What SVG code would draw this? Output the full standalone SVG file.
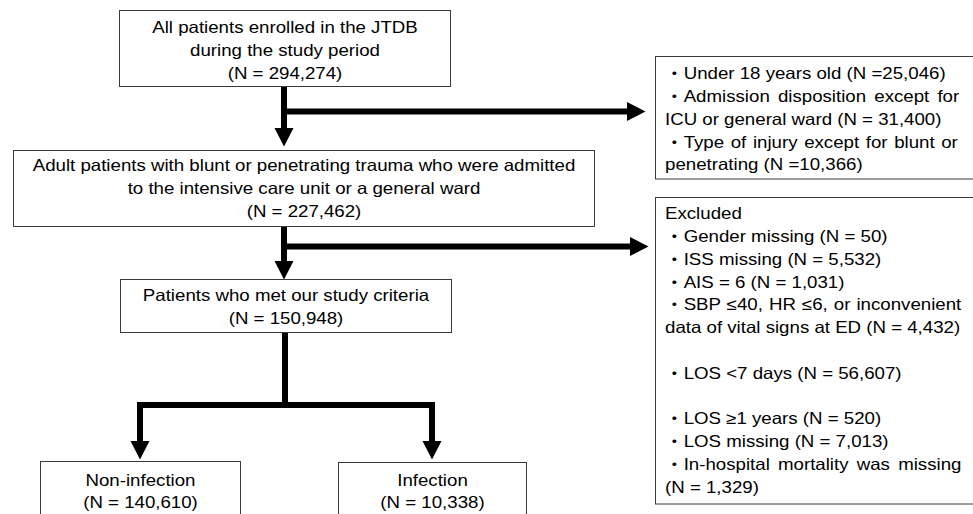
<svg xmlns="http://www.w3.org/2000/svg" width="973" height="514" viewBox="0 0 973 514">
<defs>
<style>
.box{fill:#fff;stroke:#3a3a3a;stroke-width:1}
.t{font-family:"Liberation Sans","Noto Sans CJK JP",Arial,sans-serif;font-size:16.3px;fill:#000}
.c{text-anchor:middle}
.arr{fill:none;stroke:#000;stroke-width:6;stroke-linejoin:miter}
</style>
<marker id="ah" markerUnits="userSpaceOnUse" markerWidth="19" markerHeight="20" refX="0" refY="9.5" orient="auto-start-reverse" viewBox="0 0 19 19" overflow="visible">
<path d="M0,0 L18.5,9.5 L0,19 Z" fill="#000"/>
</marker>
</defs>
<rect width="973" height="514" fill="#fff"/>

<g id="connectors">
<path class="arr" d="M284,86.5 V128" marker-end="url(#ah)"/>
<path class="arr" d="M281,111.5 H627" marker-end="url(#ah)"/>
<path class="arr" d="M284,226.5 V261" marker-end="url(#ah)"/>
<path class="arr" d="M281,246.5 H630" marker-end="url(#ah)"/>
<path class="arr" d="M285,332.5 V405"/>
<path class="arr" d="M140,441 V405 H432 V441" marker-start="url(#ah)" marker-end="url(#ah)"/>
</g>

<g id="all-patients">
<rect class="box" x="119.5" y="10.5" width="331" height="76"/>
<g transform="translate(285,0) scale(1.146,1)">
<text class="t c" x="0" y="33">All patients enrolled in the JTDB</text>
<text class="t c" x="0" y="56">during the study period</text>
<text class="t c" x="0" y="79">(N = 294,274)</text>
</g>
</g>

<g id="adult-patients">
<rect class="box" x="13.5" y="150.5" width="581" height="76"/>
<g transform="translate(304,0) scale(1.146,1)">
<text class="t c" x="0" y="171">Adult patients with blunt or penetrating trauma who were admitted</text>
<text class="t c" x="0" y="194">to the intensive care unit or a general ward</text>
<text class="t c" x="0" y="217">(N = 227,462)</text>
</g>
</g>

<g id="exclusion-1">
<rect class="box" x="655.5" y="56.5" width="330" height="122.5"/>
<g transform="translate(665,0) scale(1.146,1)">
<text class="t" x="0" y="79.5">・Under 18 years old (N =25,046)</text>
<text class="t" x="0" y="102.2" word-spacing="2.6">・Admission disposition except for</text>
<text class="t" x="0" y="124.9">ICU or general ward (N = 31,400)</text>
<text class="t" x="0" y="147.6" word-spacing="1.25">・Type of injury except for blunt or</text>
<text class="t" x="0" y="170.3">penetrating (N =10,366)</text>
</g>
</g>

<g id="exclusion-2">
<rect class="box" x="655.5" y="197.5" width="330" height="306.5"/>
<g transform="translate(665,0) scale(1.146,1)">
<text class="t" x="0" y="219.2">Excluded</text>
<text class="t" x="0" y="242">・Gender missing (N = 50)</text>
<text class="t" x="0" y="264.8">・ISS missing (N = 5,532)</text>
<text class="t" x="0" y="287.6">・AIS = 6 (N = 1,031)</text>
<text class="t" x="0" y="310.4" word-spacing="0.75">・SBP ≤40, HR ≤6, or inconvenient</text>
<text class="t" x="0" y="333.2">data of vital signs at ED (N = 4,432)</text>
<text class="t" x="0" y="378.8">・LOS &lt;7 days (N = 56,607)</text>
<text class="t" x="0" y="424.4">・LOS ≥1 years (N = 520)</text>
<text class="t" x="0" y="447.2">・LOS missing (N = 7,013)</text>
<text class="t" x="0" y="470" word-spacing="2.65">・In-hospital mortality was missing</text>
<text class="t" x="0" y="492.8">(N = 1,329)</text>
</g>
</g>

<g id="study-criteria">
<rect class="box" x="120.5" y="279.5" width="331" height="53"/>
<g transform="translate(286,0) scale(1.146,1)">
<text class="t c" x="0" y="301.5">Patients who met our study criteria</text>
<text class="t c" x="0" y="324.5">(N = 150,948)</text>
</g>
</g>

<g id="non-infection">
<rect class="box" x="40.5" y="461.5" width="200" height="60"/>
<g transform="translate(140.5,0) scale(1.146,1)">
<text class="t c" x="0" y="486">Non-infection</text>
<text class="t c" x="0" y="508.5">(N = 140,610)</text>
</g>
</g>

<g id="infection">
<rect class="box" x="338.5" y="462.5" width="188" height="60"/>
<g transform="translate(432.5,0) scale(1.146,1)">
<text class="t c" x="0" y="486">Infection</text>
<text class="t c" x="0" y="508.5">(N = 10,338)</text>
</g>
</g>
</svg>
